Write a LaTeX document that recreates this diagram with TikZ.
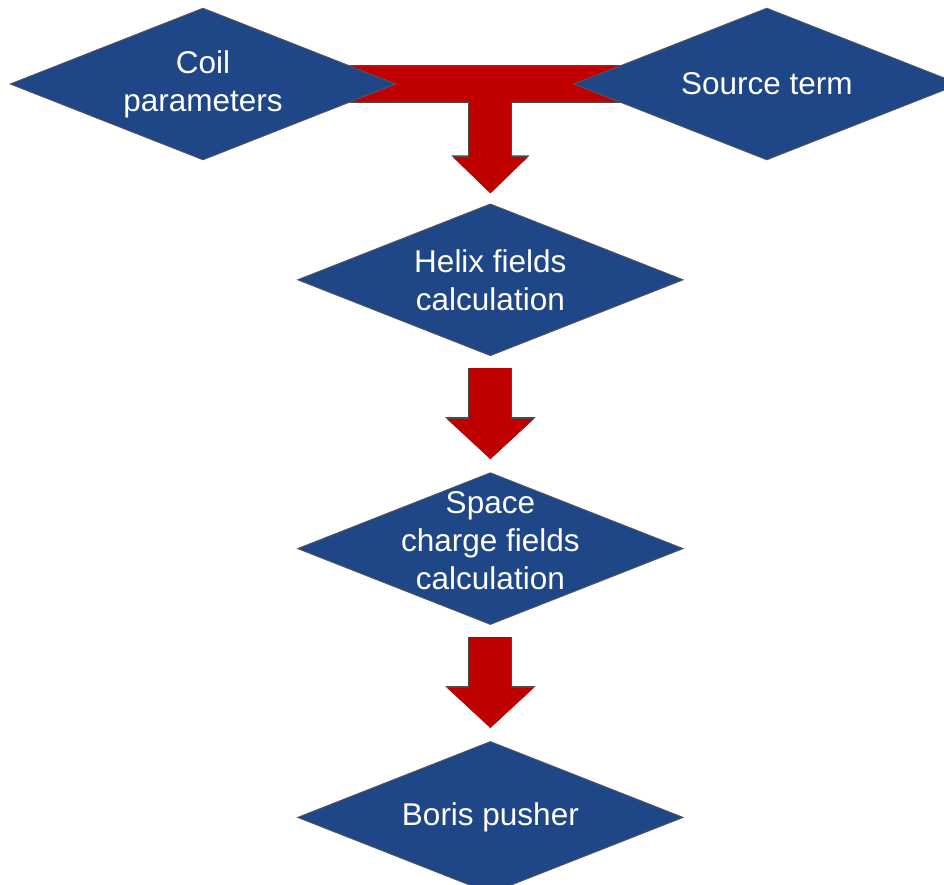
\documentclass[tikz,border=0pt]{standalone}
\usepackage{fontspec}
\setmainfont{Liberation Sans}
\usetikzlibrary{shapes,arrows.meta,positioning,calc,backgrounds}
\definecolor{boxblue}{RGB}{31,70,135}
\definecolor{arrowred}{RGB}{192,0,0}

\tikzset{
	block/.style={diamond, fill=boxblue, draw=gray!70!black, line width=0.4pt, minimum width=193pt, minimum height=76pt, inner sep=0pt},
	txt/.style={text=white, align=center, font=\fontsize{15.75}{19}\selectfont},
	fatarrow/.style={arrowred, line width=21pt, -{Triangle[width=42pt,length=20pt]},
		preaction={draw=gray!60!black, line width=22pt, -{Triangle[width=44pt,length=21pt]}}},
	toparrow/.style={arrowred, line width=21pt, -{Triangle[width=36pt,length=18pt]},
		preaction={draw=gray!60!black, line width=22pt, -{Triangle[width=38pt,length=19pt]}}},
	fatbar/.style={arrowred, line width=18pt, preaction={draw=gray!60!black, line width=19pt}}
}

\begin{document}
\begin{tikzpicture}

		\useasboundingbox (-101.5pt,42pt) rectangle (370.5pt,-400.5pt);
		\node[block, label={[txt]center:Coil\\parameters}] (coil) at (0,0) {};
		\node[block, right=88.5pt of coil, label={[txt]center:Source term}] (source) {};
		\coordinate (mid) at ($(coil.south)!0.5!(source.south)$);
		\node[block, below=21.5pt of mid, xshift=2.75pt, label={[txt]center:Helix fields\\calculation}] (helix) {};
		\node[block, below=58pt of helix, label={[txt, yshift=4pt]center:Space\\charge fields\\calculation}] (space) {};
		\node[block, below=58pt of space, label={[txt]center:Boris pusher}] (boris) {};
		\coordinate (join) at (helix.north |- coil.center);

		\begin{scope}[on background layer]
		\draw[fatbar] (coil.center) -- (source.center);
		\draw[toparrow] ([yshift=-9pt]join) -- ([yshift=5pt]helix.north);
		\end{scope}
		\draw[fatarrow] ([yshift=-6pt]helix.south) -- ([yshift=6.5pt]space.north);
		\draw[fatarrow] ([yshift=-6pt]space.south) -- ([yshift=6.5pt]boris.north);
		\end{tikzpicture}
\end{document}
